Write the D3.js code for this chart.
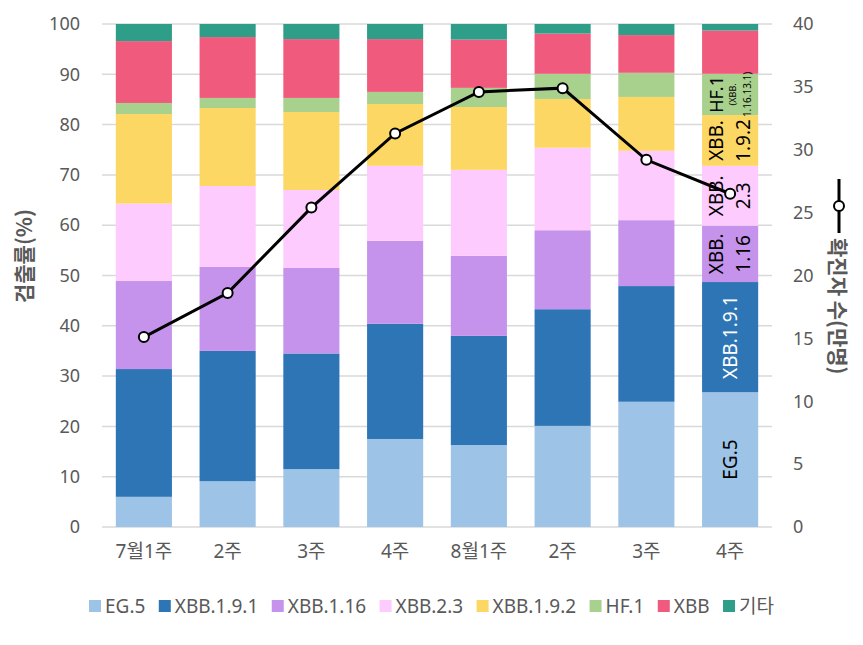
<!DOCTYPE html>
<html><head><meta charset="utf-8">
<script src="https://cdn.jsdelivr.net/npm/d3@7"></script>
<style>
html,body{margin:0;padding:0;background:#fff;}
svg{display:block;font-family:"Noto Sans","Noto Sans CJK KR",sans-serif;}
</style></head><body>
<svg id="chart" width="863" height="645"></svg>
<script>
// ---- data ----
const categories = ["7월1주","2주","3주","4주","8월1주","2주 ","3주 ","4주 "];
const categoryLabels = ["7월1주","2주","3주","4주","8월1주","2주","3주","4주"];
const seriesNames = ["EG.5","XBB.1.9.1","XBB.1.16","XBB.2.3","XBB.1.9.2","HF.1","XBB","기타"];
const eg5     = [6.0, 9.1, 11.5, 17.5, 16.3, 20.1, 24.9, 26.8];
const xbb191  = [25.4, 25.9, 23.0, 22.9, 21.7, 23.2, 23.0, 21.9];
const xbb116  = [17.5, 16.7, 17.0, 16.5, 15.9, 15.7, 13.1, 11.2];
const xbb23   = [15.4, 16.1, 15.5, 14.9, 17.1, 16.4, 13.8, 11.9];
const xbb192  = [17.8, 15.5, 15.5, 12.3, 12.5, 9.7, 10.7, 10.1];
const hf1     = [2.2, 2.0, 2.8, 2.4, 3.8, 5.0, 4.8, 8.2];
const xbb     = [12.3, 12.1, 11.7, 10.5, 9.6, 8.0, 7.5, 8.6];
const etc     = [3.4, 2.6, 3.0, 3.0, 3.1, 1.9, 2.2, 1.3];
const cases   = [15.1, 18.6, 25.4, 31.3, 34.6, 34.9, 29.2, 26.5];
const leftTicks  = [0,10,20,30,40,50,60,70,80,90,100];
const rightTicks = [0,5,10,15,20,25,30,35,40];
const colors = ["#9DC3E6","#2E75B6","#C593EB","#FDCBFD","#FDD764","#A9D18E","#F05B7D","#2E9E88"];
// labels on last bar
const lastLabels = [
  {s:0, lines:["EG.5"], color:"#000"},
  {s:1, lines:["XBB.1.9.1"], color:"#fff"},
  {s:2, lines:["XBB.","1.16"], color:"#000"},
  {s:3, lines:["XBB.","2.3"], color:"#000"},
  {s:4, lines:["XBB.","1.9.2"], color:"#000"}
];

// ---- layout ----
const svg = d3.select("#chart");
const L = 102, R = 772, T = 24, B = 527;
const seriesArrays = [eg5,xbb191,xbb116,xbb23,xbb192,hf1,xbb,etc];
const table = categories.map((c,i)=>{
  const o = {cat:c};
  seriesNames.forEach((n,k)=>o[n]=seriesArrays[k][i]);
  return o;
});
const stacked = d3.stack().keys(seriesNames)(table);

const x = d3.scaleBand().domain(categories).range([L,R]).paddingInner(0.33).paddingOuter(0.165);
const y = d3.scaleLinear().domain([0,100]).range([B,T]);
const y2 = d3.scaleLinear().domain([0,40]).range([B,T]);

// gridlines
svg.append("g").selectAll("line").data(leftTicks).join("line")
  .attr("x1",L).attr("x2",R).attr("y1",d=>y(d)).attr("y2",d=>y(d))
  .attr("stroke","#d9d9d9").attr("stroke-width",1.5);

// bars
svg.append("g").selectAll("g").data(stacked).join("g")
  .attr("fill",(d,i)=>colors[i])
  .selectAll("rect").data(d=>d).join("rect")
  .attr("x",d=>x(d.data.cat)).attr("width",x.bandwidth())
  .attr("y",d=>y(Math.min(100,d[1]))).attr("height",d=>y(d[0])-y(Math.min(100,d[1])));

// axes
const axL = d3.axisLeft(y).tickValues(leftTicks).tickSize(0).tickPadding(22);
const gL = svg.append("g").attr("transform",`translate(${L},0)`).call(axL);
const axR = d3.axisRight(y2).tickValues(rightTicks).tickSize(0).tickPadding(21);
const gR = svg.append("g").attr("transform",`translate(${R},0)`).call(axR);
const axB = d3.axisBottom(x).tickSize(0).tickPadding(18).tickFormat((d,i)=>categoryLabels[i]);
const gB = svg.append("g").attr("transform",`translate(0,${B})`).call(axB);
[gL,gR,gB].forEach(g=>{
  g.select(".domain").remove();
  g.selectAll("text").attr("fill","#595959").style("font-size","18px")
   .style("font-family",'"Noto Sans","Noto Sans CJK KR",sans-serif');
});
gB.selectAll("text").style("font-size","19px");

// line
const cx = (i)=>x(categories[i])+x.bandwidth()/2;
svg.append("path").datum(cases)
  .attr("fill","none").attr("stroke","#000").attr("stroke-width",3)
  .attr("d",d3.line().x((d,i)=>cx(i)).y(d=>y2(d)));
svg.append("g").selectAll("circle").data(cases).join("circle")
  .attr("cx",(d,i)=>cx(i)).attr("cy",d=>y2(d)).attr("r",5)
  .attr("fill","#fff").attr("stroke","#000").attr("stroke-width",2);

// labels on last bar
const lastIdx = categories.length-1;
const lx = cx(lastIdx);
lastLabels.forEach(lb=>{
  const seg = stacked[lb.s][lastIdx];
  const cy = (y(seg[0])+y(seg[1]))/2;
  const n = lb.lines.length;
  lb.lines.forEach((t,j)=>{
    const off = n===1 ? 0 : (j===0 ? -14 : 13);
    svg.append("text").attr("transform",`translate(${lx+off},${cy}) rotate(-90)`)
      .attr("text-anchor","middle").attr("dominant-baseline","central")
      .attr("fill",lb.color).style("font-size","19px").text(t);
  });
});
// HF.1 label with small note
{
  const seg = stacked[5][lastIdx];
  const cy = (y(seg[0])+y(seg[1]))/2;
  svg.append("text").attr("transform",`translate(${lx-14},${cy}) rotate(-90)`)
    .attr("text-anchor","middle").attr("dominant-baseline","central")
    .attr("fill","#000").style("font-size","18px").text("HF.1");
  svg.append("text").attr("transform",`translate(${lx+2},${cy}) rotate(-90)`)
    .attr("text-anchor","middle").attr("dominant-baseline","central")
    .attr("fill","#000").style("font-size","9px").text("(XBB.");
  svg.append("text").attr("transform",`translate(${lx+17},${cy}) rotate(-90)`)
    .attr("text-anchor","middle").attr("dominant-baseline","central")
    .attr("fill","#000").style("font-size","10px").text("1.16.13.1)");
}

// axis titles
svg.append("text").attr("transform","translate(23,256) rotate(-90)")
  .attr("text-anchor","middle").attr("dominant-baseline","central")
  .attr("fill","#595959").style("font-size","21px").style("font-weight","bold")
  .style("font-family",'"Noto Sans CJK KR",sans-serif').text("검출률(%)");
const rt = svg.append("g").attr("transform","translate(839,0)");
rt.append("line").attr("x1",0).attr("x2",0).attr("y1",179).attr("y2",233)
  .attr("stroke","#000").attr("stroke-width",3);
rt.append("circle").attr("cx",0).attr("cy",206).attr("r",5)
  .attr("fill","#fff").attr("stroke","#000").attr("stroke-width",2);
rt.append("text").attr("transform","translate(0,238) rotate(90)")
  .attr("text-anchor","start").attr("dominant-baseline","central")
  .attr("fill","#595959").style("font-size","21px").style("font-weight","bold")
  .style("font-family",'"Noto Sans CJK KR",sans-serif').text("확진자 수(만명)");

// legend
const lg = svg.append("g");
const items = seriesNames.map((n,i)=>{
  const g = lg.append("g");
  g.append("rect").attr("width",12).attr("height",12).attr("y",-6).attr("fill",colors[i]);
  const t = g.append("text").attr("x",16).attr("dominant-baseline","central")
    .attr("fill","#595959").style("font-size","19px").text(n);
  return {g, w: 16 + t.node().getComputedTextLength()};
});
const legL = 89, legR = 774;
const gap = (legR - legL - d3.sum(items,d=>d.w))/(items.length-1);
let cur = legL;
items.forEach(it=>{ it.g.attr("transform",`translate(${cur},606)`); cur += it.w + gap; });
</script>
</body></html>
